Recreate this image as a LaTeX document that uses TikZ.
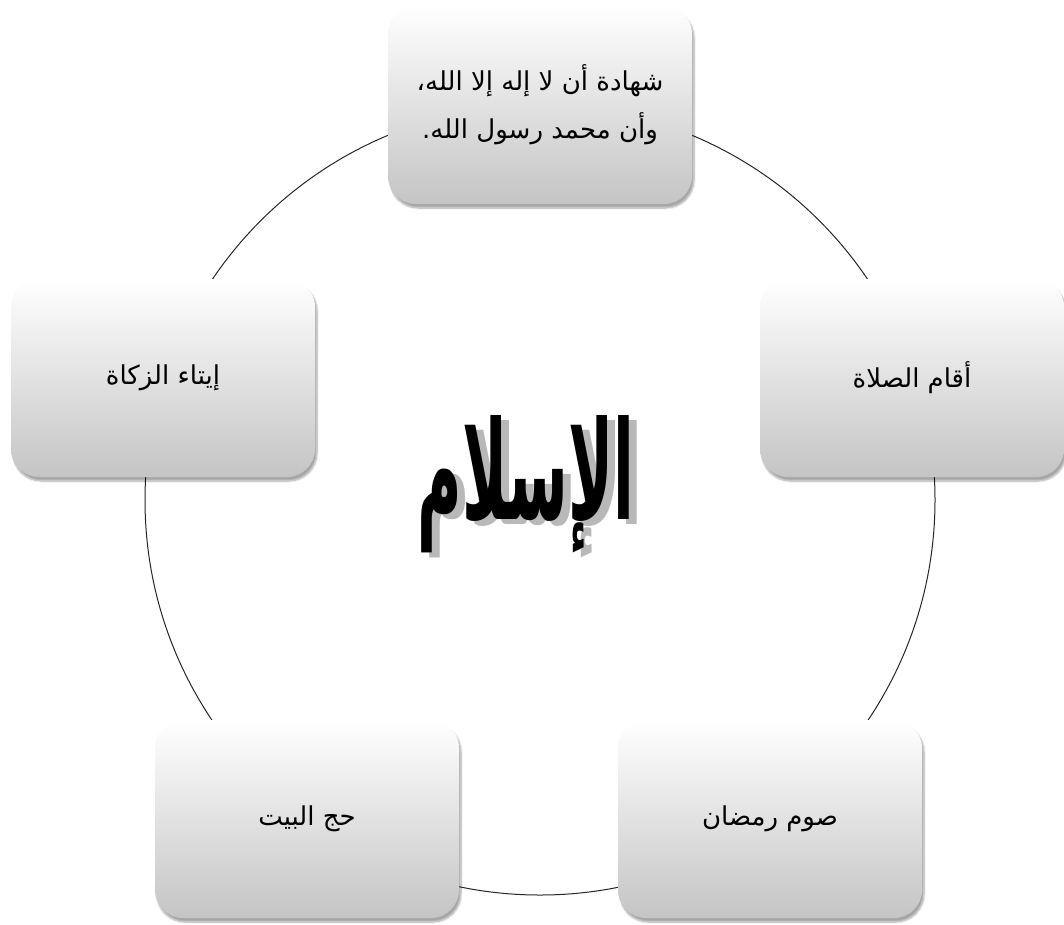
\documentclass[tikz,border=0pt]{standalone}
\usepackage{fontspec}
\usetikzlibrary{shadows.blur}
\newfontfamily\arabicfont[Script=Arabic]{DejaVu Sans}
\TeXXeTstate=1
\begin{document}
\begin{tikzpicture}[x=1pt,y=-1pt,
  pillar/.style={rounded corners=28pt, minimum width=304pt, minimum height=198pt,
    top color=white, bottom color=black!23,
    blur shadow={shadow xshift=2pt, shadow yshift=-4pt, shadow blur steps=8, shadow opacity=35},
    font=\arabicfont\fontsize{26}{48}\selectfont, align=center},
  title/.style={font=\arabicfont\bfseries\fontsize{74}{80}\selectfont}]
\useasboundingbox (0,0) rectangle (1064,924);
\coordinate (hub) at (540,500);
\draw[line width=1pt, black!85] (hub) circle[radius=395pt];
% central word with its shadow
\node[title, text=black!28] at (534,489) {\scalebox{0.82}[1.85]{\beginR الإسلام\endR}};
\node[title] (islam) at (526,484) {\scalebox{0.82}[1.85]{\beginR الإسلام\endR}};
% the five pillars
\node[pillar] (shahada) at (540,105) {\beginR شهادة أن لا إله إلا الله،\endR\\ \beginR وأن محمد رسول الله.\endR};
\node[pillar] (salat) at (912,378) {\beginR أقام الصلاة\endR};
\node[pillar] (sawm) at (770,819) {\beginR صوم رمضان\endR};
\node[pillar] (hajj) at (307,819) {\beginR حج البيت\endR};
\node[pillar] (zakat) at (163,378) {\beginR إيتاء الزكاة\endR};
\end{tikzpicture}
\end{document}
